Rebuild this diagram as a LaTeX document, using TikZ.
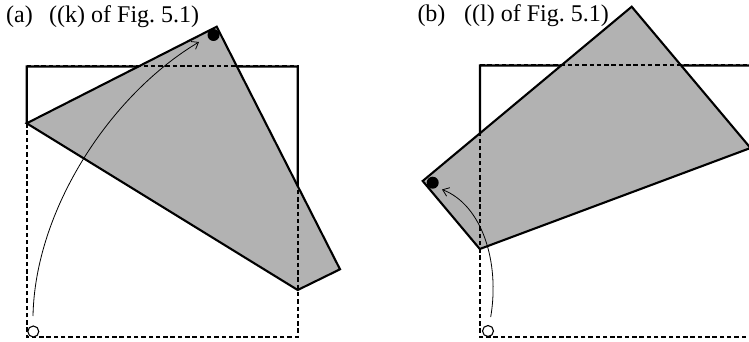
\documentclass[tikz,border=0pt]{standalone}
\usepackage{fontspec}
\setmainfont{Liberation Serif}
\usetikzlibrary{arrows.meta}
\begin{document}
\begin{tikzpicture}[x=1pt,y=-1pt,
  lbl/.style={anchor=base west,inner sep=0pt,font=\fontsize{24}{26}\selectfont},
  sheet/.style={draw=black,line width=2.1pt,line join=miter},
  sqdash/.style={draw=black,line width=2pt,dash pattern=on 4.5pt off 2.8pt},
  sqsolid/.style={draw=black,line width=2.1pt},
  motion/.style={draw=black,line width=0.8pt,-{Straight Barb[length=6pt,width=9pt,line width=0.8pt]}},
  fulldot/.style={circle,fill=black,minimum size=12pt,inner sep=0pt},
  emptydot/.style={circle,draw=black,fill=white,line width=1.1pt,minimum size=11pt,inner sep=0pt}]
\useasboundingbox (0,0) rectangle (749,342);
\clip (0,0) rectangle (749,342);
% ---------- panel (a) ----------
\node[lbl] (la) at (6,23) {(a)};
\node[lbl] (ta) at (49,23) {((k) of Fig.\ 5.1)};
\coordinate (A1) at (26.7,66.5);
\coordinate (A2) at (297.7,66.5);
\coordinate (A3) at (297.7,337);
\coordinate (A4) at (26.7,337);
\coordinate (PA1) at (26.7,123.3);
\coordinate (PA2) at (216.7,26.7);
\coordinate (PA3) at (340,269.3);
\coordinate (PA4) at (297.7,290);
\fill[black!30] (PA1) -- (PA2) -- (PA3) -- (PA4) -- cycle;
\draw[sqdash] (A1) -- (A2) -- (A3) -- (A4) -- cycle;
\draw[sqsolid] (PA1) -- (A1) -- (intersection of PA1--PA2 and A1--A2);
\draw[sqsolid] (intersection of PA2--PA3 and A1--A2) -- (A2) -- (intersection of PA2--PA3 and A2--A3);
\draw[sheet] (PA1) -- (PA2) -- (PA3) -- (PA4) -- cycle;
\node[fulldot] (da) at (213.5,35) {};
\node[emptydot] (ea) at (33.3,331.5) {};
\coordinate (sa) at (33,316);
\coordinate (ha) at (199,42);
\draw[motion] (sa) .. controls (35,210) and (110,95) .. (ha);
% ---------- panel (b) ----------
\node[lbl] (lb) at (417.3,21.5) {(b)};
\node[lbl] (tb) at (464,21.5) {((l) of Fig.\ 5.1)};
\coordinate (B1) at (480,65.5);
\coordinate (B2) at (751,65.5);
\coordinate (B3) at (751,337);
\coordinate (B4) at (480,337);
\coordinate (PB1) at (422.7,181);
\coordinate (PB2) at (631.7,6.7);
\coordinate (PB3) at (750.5,148);
\coordinate (PB4) at (479.8,249);
\fill[black!30] (PB1) -- (PB2) -- (PB3) -- (PB4) -- cycle;
\draw[sqdash] (B1) -- (B2) -- (B3) -- (B4) -- cycle;
\draw[sqsolid] (intersection of PB1--PB2 and B1--B4) -- (B1) -- (intersection of PB1--PB2 and B1--B2);
\draw[sqsolid] (intersection of PB2--PB3 and B1--B2) -- (B2);
\draw[sheet] (PB1) -- (PB2) -- (PB3) -- (PB4) -- cycle;
\node[fulldot] (db) at (432.7,182.7) {};
\node[emptydot] (eb) at (488,331) {};
\coordinate (sb) at (490.7,317);
\coordinate (hb) at (442,189.5);
\draw[motion] (sb) .. controls (500,262) and (482,205) .. (hb);
\end{tikzpicture}
\end{document}
